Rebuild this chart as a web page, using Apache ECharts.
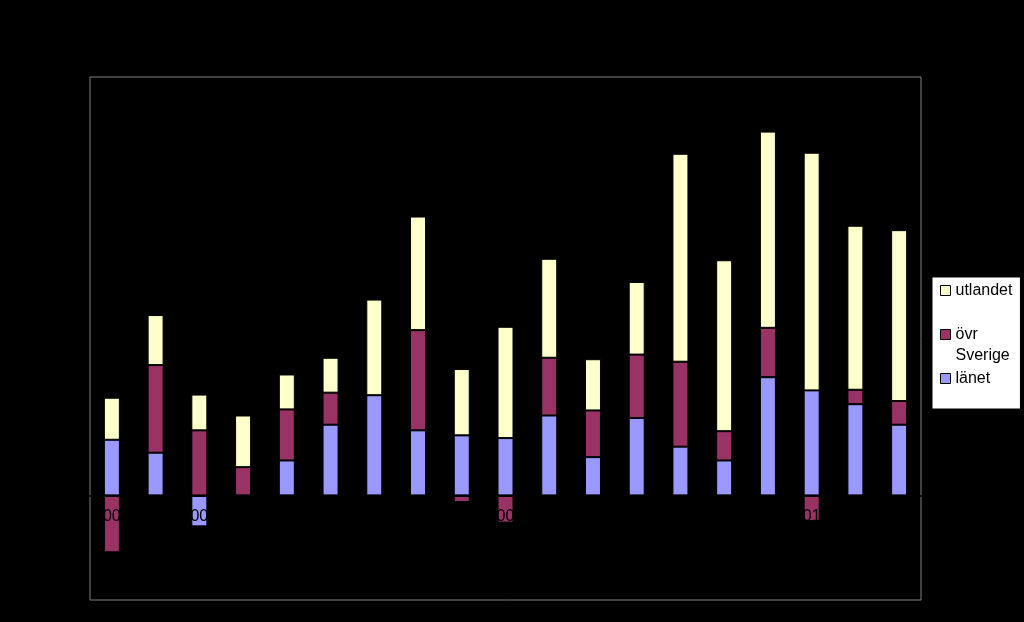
<!DOCTYPE html>
<html>
<head>
<meta charset="utf-8">
<title>Flyttnetto</title>
<script src="https://cdn.jsdelivr.net/npm/echarts@6/dist/echarts.min.js"></script>
<style>
  html, body { margin: 0; padding: 0; background: #000; }
  #chart { width: 1024px; height: 622px; }
</style>
</head>
<body>
<div id="chart"></div>
<script>
// Chart data
const years = ['2000', '2001', '2002', '2003', '2004', '2005', '2006', '2007', '2008', '2009',
               '2010', '2011', '2012', '2013', '2014', '2015', '2016', '2017', '2018'];
const lanet = [266, 204, -148, 0, 167, 338, 479, 311, 287, 274, 382, 183, 370, 233, 167, 565, 502, 436, 338];
const ovrSverige = [-272, 419, 311, 135, 244, 153, 0, 479, -32, -130, 276, 223, 303, 406, 140, 236, -123, 69, 113];
const utlandet = [201, 239, 171, 247, 167, 167, 457, 543, 317, 532, 473, 245, 347, 994, 817, 938, 1136, 784, 817];

const font = 'Liberation Sans, Arial, sans-serif';

function barSeries(name, data, color) {
    return {
        name: name,
        type: 'bar',
        stack: 'total',
        data: data,
        barWidth: 16,
        itemStyle: { color: color, borderColor: '#000', borderWidth: 1 }
    };
}

const chart = echarts.init(document.getElementById('chart'));
chart.setOption({
    backgroundColor: '#000',
    animation: false,
    grid: {
        left: 90, right: 103, top: 77, bottom: 22,
        outerBoundsMode: 'none',
        show: true, borderColor: '#808080', borderWidth: 1
    },
    legend: {
        orient: 'vertical',
        left: 932, top: 277,
        padding: [3, 8, 20, 8],
        itemGap: 2,
        itemWidth: 10, itemHeight: 10,
        backgroundColor: '#fff',
        borderColor: '#000', borderWidth: 1,
        icon: 'rect',
        itemStyle: { borderColor: '#000', borderWidth: 1 },
        textStyle: { color: '#000', fontSize: 16, fontFamily: font, lineHeight: 21 },
        // two-word name wraps; empty first line keeps the icon level with "övr"
        formatter: name => name.includes(' ') ? '\n' + name.replace(' ', '\n') : name,
        data: ['utlandet', 'övr Sverige', 'länet']
    },
    xAxis: {
        type: 'category',
        data: years,
        z: 10,
        axisLine: { onZero: true, lineStyle: { color: '#000', width: 2 } },
        axisTick: { show: false },
        // labels sit just under the zero line, black on black (only visible over bars)
        axisLabel: { color: '#000', fontSize: 16, fontFamily: font, margin: -91, interval: 0 }
    },
    yAxis: {
        type: 'value',
        min: -500, max: 2000, interval: 500,
        axisLine: { show: false },
        axisTick: { show: false },
        splitLine: { show: false },
        axisLabel: { color: '#000', fontFamily: font }
    },
    series: [
        barSeries('länet', lanet, '#9999FF'),
        barSeries('övr Sverige', ovrSverige, '#993366'),
        barSeries('utlandet', utlandet, '#FFFFCC')
    ]
});
</script>
</body>
</html>
